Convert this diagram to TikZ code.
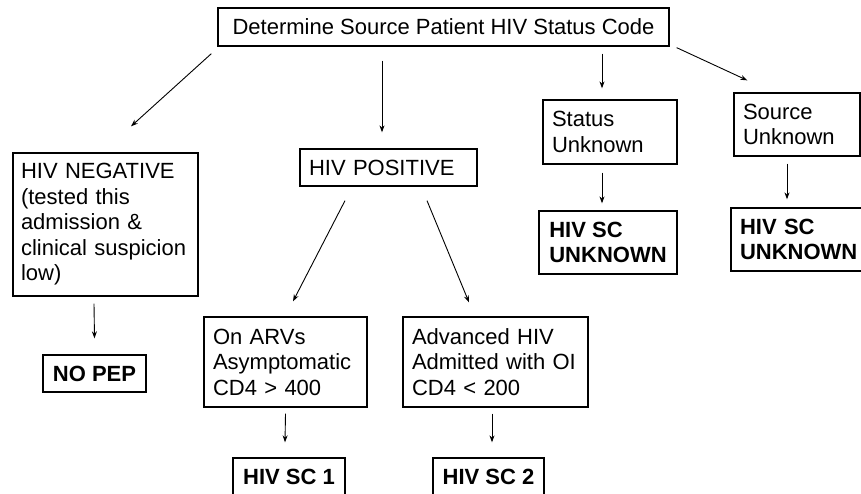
\documentclass[tikz,border=0pt]{standalone}
\usepackage{fontspec}
\setmainfont{Liberation Sans}
\usetikzlibrary{arrows.meta}

\begin{document}
\begin{tikzpicture}[x=1pt,y=-1pt,
  box/.style={draw, line width=1.3pt, inner ysep=0pt, inner xsep=9pt, align=left,
    font=\fontsize{22}{25.5}\selectfont, execute at begin node={\hyphenpenalty=10000}},
  res/.style={box, font=\fontsize{22}{25.5}\selectfont\bfseries},
  arr/.style={line width=0.9pt, -{Stealth[length=7pt,width=5pt]}}]
\clip (0,0) rectangle (861,493);
\fill[white] (0,0) rectangle (861,493);
\node[box, align=center, minimum width=451pt, minimum height=38pt] (top) at (443.5,27) {Determine Source Patient HIV Status Code};
\node[box, inner xsep=8pt, text width=169pt, minimum height=143pt] (neg) at (105.5,224.5) {HIV NEGATIVE\\(tested this\\admission \&\\clinical suspicion\\low)};
\node[box, text width=159pt, minimum height=37pt] (pos) at (388.5,167.5) {HIV POSITIVE};
\node[box, text width=116pt, minimum height=64pt] (status) at (610,132) {Status\\Unknown};
\node[box, text width=108pt, minimum height=63pt] (source) at (797,124.5) {Source\\Unknown};
\node[res, minimum width=138pt, minimum height=63pt] (scunka) at (608,242.5) {HIV SC\\UNKNOWN};
\node[res, text width=127pt, minimum height=63pt] (scunkb) at (803.5,239.5) {HIV SC\\UNKNOWN};
\node[res, align=center, minimum width=103pt, minimum height=37pt] (nopep) at (94.5,373.5) {NO PEP};
\node[box, text width=145pt, minimum height=90pt] (arv) at (285.5,362) {On ARVs\\Asymptomatic\\CD4 > 400};
\node[box, text width=167pt, minimum height=90pt] (adv) at (495.5,362) {Advanced HIV\\Admitted with OI\\CD4 < 200};
\node[res, align=center, minimum width=112pt, minimum height=37pt] (sca) at (289,476.5) {HIV SC 1};
\node[res, align=center, minimum width=111pt, minimum height=37pt] (scb) at (488.5,476.5) {HIV SC 2};
\draw[arr] ([xshift=-6pt,yshift=-7pt]top.south west) -- ([xshift=25.5pt,yshift=26pt]neg.north);
\draw[arr] ([xshift=-61.5pt,yshift=-14pt]top.south) -- ([xshift=-6.5pt,yshift=16pt]pos.north);
\draw[arr] ([xshift=158.5pt,yshift=-7pt]top.south) -- ([xshift=-8pt,yshift=11pt]status.north);
\draw[arr] ([xshift=7pt,yshift=-1pt]top.south east) -- ([xshift=14pt,yshift=12pt]source.north west);
\draw[arr] ([xshift=-43.5pt,yshift=-14pt]pos.south) -- ([xshift=7.5pt,yshift=15pt]arv.north);
\draw[arr] ([xshift=38.5pt,yshift=-14pt]pos.south) -- ([xshift=-26.5pt,yshift=14pt]adv.north);
\draw[arr] ([xshift=-11.5pt,yshift=-7pt]neg.south) -- ([yshift=16pt]nopep.north);
\draw[arr] ([yshift=-6pt]arv.south) -- ([xshift=-4pt,yshift=15pt]sca.north);
\draw[arr] ([xshift=-3.5pt,yshift=-6pt]adv.south) -- ([xshift=3.5pt,yshift=15pt]scb.north);
\draw[arr] ([xshift=-8pt,yshift=-8pt]status.south) -- ([xshift=-6pt,yshift=7pt]scunka.north);
\draw[arr] ([xshift=-10pt,yshift=-7pt]source.south) -- ([xshift=-16.5pt,yshift=8pt]scunkb.north);
\end{tikzpicture}
\end{document}
